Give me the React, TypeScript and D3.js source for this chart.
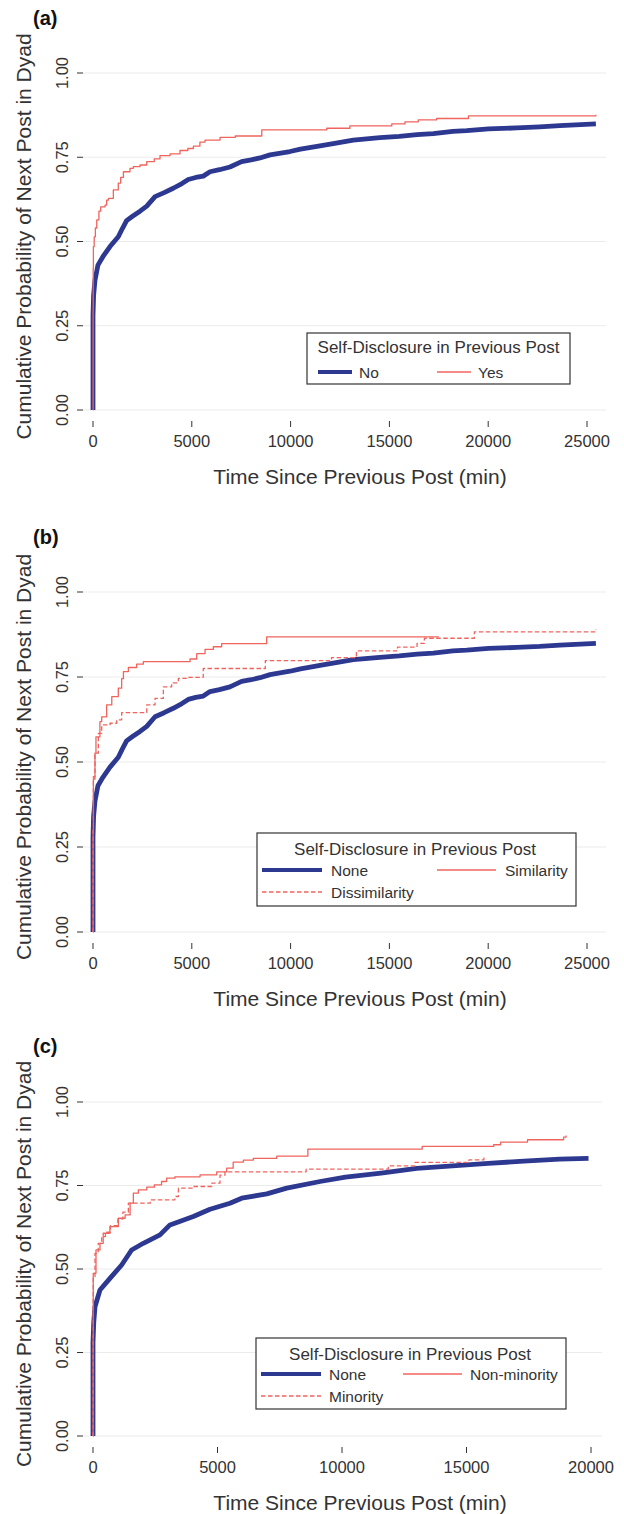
import * as d3 from "d3";
import React from "react";

type Pt = [number, number];

// axis ticks
const yTicks = [0, 0.25, 0.5, 0.75, 1];
const xTicksAB = [0, 5000, 10000, 15000, 20000, 25000];
const xTicksC = [0, 5000, 10000, 15000, 20000];

// (a) & (b): no self-disclosure
const noneAB: Pt[] = [
  [0, 0], [0, 0.28], [30, 0.34], [100, 0.385], [250, 0.43], [500, 0.455], [860, 0.485],
  [1280, 0.514], [1500, 0.54], [1700, 0.562], [2000, 0.575], [2380, 0.59], [2720, 0.605],
  [3140, 0.633], [3600, 0.645], [4060, 0.658], [4500, 0.672], [4820, 0.684], [5200, 0.69],
  [5580, 0.694], [5920, 0.707], [6400, 0.713], [6930, 0.721], [7520, 0.737], [8000, 0.742],
  [8450, 0.748], [8960, 0.757], [9970, 0.767], [10500, 0.774], [11490, 0.784], [12300, 0.792],
  [13170, 0.801], [14520, 0.808], [15500, 0.812], [16400, 0.817], [17220, 0.82], [18210, 0.827],
  [18910, 0.829], [20020, 0.834], [21440, 0.837], [22600, 0.84], [23630, 0.844], [25450, 0.849],
];

// (a): self-disclosure yes
const yesA: Pt[] = [
  [0, 0], [5, 0.3], [10, 0.42], [20, 0.485], [60, 0.514], [120, 0.54], [190, 0.564], [300, 0.59],
  [390, 0.603], [610, 0.608], [690, 0.623], [780, 0.628], [1030, 0.653], [1280, 0.673], [1400, 0.69],
  [1540, 0.707], [1870, 0.717], [2040, 0.722], [2380, 0.727], [2720, 0.737], [3100, 0.745],
  [3390, 0.755], [3900, 0.76], [4400, 0.77], [4800, 0.776], [5080, 0.783], [5410, 0.795],
  [5670, 0.801], [6430, 0.809], [7200, 0.813], [8540, 0.831], [11830, 0.836], [13000, 0.843],
  [15120, 0.849], [15790, 0.855], [16460, 0.861], [17390, 0.865], [19000, 0.873], [25300, 0.873],
  [25450, 0.876],
];

// (b): similarity / dissimilarity
const similarityB: Pt[] = [
  [0, 0], [5, 0.3], [20, 0.45], [100, 0.526], [150, 0.574], [350, 0.619], [440, 0.633],
  [690, 0.668], [950, 0.692], [1280, 0.717], [1450, 0.745], [1540, 0.766], [1790, 0.778],
  [2210, 0.788], [2550, 0.795], [4910, 0.803], [5250, 0.819], [5670, 0.831], [6090, 0.839],
  [6510, 0.848], [8790, 0.868], [17500, 0.868],
];
const dissimilarityB: Pt[] = [
  [0, 0], [5, 0.3], [20, 0.457], [100, 0.526], [270, 0.584], [440, 0.609], [860, 0.614],
  [1200, 0.624], [1450, 0.645], [2720, 0.668], [3140, 0.687], [3560, 0.721], [3980, 0.733],
  [4320, 0.746], [4820, 0.749], [5580, 0.775], [8720, 0.798], [12070, 0.807], [13330, 0.827],
  [15410, 0.838], [16400, 0.849], [16770, 0.864], [19300, 0.883], [25300, 0.883], [25450, 0.89],
];

// (c): none / non-minority / minority
const noneC: Pt[] = [
  [0, 0], [0, 0.28], [30, 0.34], [80, 0.387], [280, 0.437], [680, 0.472], [1150, 0.512],
  [1550, 0.557], [2020, 0.577], [2690, 0.602], [3090, 0.632], [4030, 0.657], [4700, 0.679],
  [5500, 0.697], [5970, 0.712], [6980, 0.725], [7780, 0.742], [9120, 0.762], [10136, 0.775],
  [11570, 0.787], [13004, 0.801], [14437, 0.809], [15871, 0.816], [17305, 0.823], [18738, 0.829],
  [19900, 0.831],
];
const nonMinorityC: Pt[] = [
  [0, 0], [5, 0.3], [10, 0.487], [120, 0.557], [280, 0.577], [410, 0.607], [680, 0.627],
  [1020, 0.652], [1290, 0.662], [1490, 0.697], [1620, 0.727], [1820, 0.737], [2160, 0.745],
  [2466, 0.752], [2753, 0.762], [2960, 0.772], [3290, 0.776], [4300, 0.782], [4970, 0.791],
  [5370, 0.802], [5630, 0.82], [6040, 0.826], [6440, 0.831], [7380, 0.838], [8630, 0.859],
  [13220, 0.867], [16090, 0.872], [16370, 0.88], [17450, 0.887], [18900, 0.895], [19000, 0.9],
];
const minorityC: Pt[] = [
  [0, 0], [5, 0.3], [10, 0.477], [80, 0.547], [210, 0.577], [350, 0.597], [500, 0.61],
  [700, 0.63], [1000, 0.65], [1200, 0.67], [1420, 0.697], [2300, 0.707], [3290, 0.717],
  [3430, 0.742], [4030, 0.747], [4770, 0.757], [5100, 0.781], [5300, 0.791], [8560, 0.799],
  [11860, 0.809], [12930, 0.819], [15100, 0.827], [15650, 0.827], [15700, 0.835],
];

const BLUE = "#2D3891";
const RED = "#F0645E";
const FONT = "'Liberation Sans', Arial, Helvetica, sans-serif";
const TEXT = "#333";

type Series = { data: Pt[]; color: string; width: number; dash?: string; step: boolean };
type Key = { label: string; color: string; width: number; dash?: string; x0: number; x1: number; tx: number; y: number };

type PanelProps = {
  tag: string;
  tagY: number;
  y0: number; // pixel of 0.00
  y1: number; // pixel of 1.00
  xMax: number;
  xEnd: number;
  gridEnd: number;
  xTicks: number[];
  series: Series[];
  legendBox: [number, number, number, number];
  legendTitle: [number, number];
  keys: Key[];
};

function Panel(p: PanelProps) {
  const x = d3.scaleLinear().domain([0, p.xMax]).range([93, p.xEnd]);
  const y = d3.scaleLinear().domain([0, 1]).range([p.y0, p.y1]);
  const titleY = (p.y0 + p.y1) / 2 - 5;
  const [lx, ly, lw, lh] = p.legendBox;

  return (
    <g fontFamily={FONT}>
      <text x={33} y={p.tagY} fontSize={20} fontWeight="bold" fill="#111">{p.tag}</text>

      {yTicks.map((t) => (
        <g key={t}>
          <line x1={83} x2={p.gridEnd} y1={y(t)} y2={y(t)} stroke="#EBEBEB" strokeWidth={1.1} />
          <line x1={77} x2={83} y1={y(t)} y2={y(t)} stroke={TEXT} strokeWidth={1} />
          <text
            transform={`translate(68,${y(t)}) rotate(-90)`}
            textAnchor="middle"
            fontSize={16.5}
            fill={TEXT}
          >
            {d3.format(".2f")(t)}
          </text>
        </g>
      ))}

      {p.xTicks.map((t) => (
        <g key={t}>
          <line x1={x(t)} x2={x(t)} y1={p.y0 + 11} y2={p.y0 + 17} stroke={TEXT} strokeWidth={1} />
          <text x={x(t)} y={p.y0 + 37} textAnchor="middle" fontSize={16.5} fill={TEXT}>{t}</text>
        </g>
      ))}

      <text x={360} y={p.y0 + 74} textAnchor="middle" fontSize={21} fill={TEXT}>
        Time Since Previous Post (min)
      </text>
      <text transform={`translate(31,${titleY}) rotate(-90)`} textAnchor="middle" fontSize={21} fill={TEXT}>
        Cumulative Probability of Next Post in Dyad
      </text>

      {p.series.map((s, i) => {
        const line = d3
          .line<Pt>()
          .x((d) => x(d[0]))
          .y((d) => y(d[1]))
          .curve(s.step ? d3.curveStepAfter : d3.curveLinear);
        return (
          <path
            key={i}
            d={line(s.data) || ""}
            fill="none"
            stroke={s.color}
            strokeWidth={s.width}
            strokeDasharray={s.dash}
            strokeLinejoin="round"
          />
        );
      })}

      <rect x={lx} y={ly} width={lw} height={lh} fill="white" stroke="#333" strokeWidth={1.2} />
      <text x={p.legendTitle[0]} y={p.legendTitle[1]} textAnchor="middle" fontSize={17} fill={TEXT}>
        Self-Disclosure in Previous Post
      </text>
      {p.keys.map((k) => (
        <g key={k.label}>
          <line x1={k.x0} x2={k.x1} y1={k.y} y2={k.y} stroke={k.color} strokeWidth={k.width} strokeDasharray={k.dash} />
          <text x={k.tx} y={k.y + 6} fontSize={15.5} fill={TEXT}>{k.label}</text>
        </g>
      ))}
    </g>
  );
}

const DASH = "4.5,2.5";

export default function App() {
  return (
    <svg width={624} height={1514} style={{ position: "absolute", left: 0, top: 0, background: "white" }}>
      <Panel
        tag="(a)"
        tagY={25}
        y0={410}
        y1={73}
        xMax={25000}
        xEnd={587}
        gridEnd={606}
        xTicks={xTicksAB}
        series={[
          { data: noneAB, color: BLUE, width: 4.8, step: false },
          { data: yesA, color: RED, width: 1.3, step: true },
        ]}
        legendBox={[307, 333, 263, 51]}
        legendTitle={[438.5, 353]}
        keys={[
          { label: "No", color: BLUE, width: 4, x0: 318, x1: 352, tx: 359, y: 372 },
          { label: "Yes", color: RED, width: 1.3, x0: 437, x1: 471, tx: 478, y: 372 },
        ]}
      />
      <Panel
        tag="(b)"
        tagY={544}
        y0={932}
        y1={592}
        xMax={25000}
        xEnd={587}
        gridEnd={606}
        xTicks={xTicksAB}
        series={[
          { data: noneAB, color: BLUE, width: 4.8, step: false },
          { data: dissimilarityB, color: RED, width: 1.3, dash: DASH, step: true },
          { data: similarityB, color: RED, width: 1.3, step: true },
        ]}
        legendBox={[257, 833, 319, 73]}
        legendTitle={[415, 855]}
        keys={[
          { label: "None", color: BLUE, width: 4, x0: 262, x1: 322, tx: 331, y: 870 },
          { label: "Similarity", color: RED, width: 1.3, x0: 437, x1: 496, tx: 505, y: 870 },
          { label: "Dissimilarity", color: RED, width: 1.3, dash: DASH, x0: 262, x1: 322, tx: 331, y: 892 },
        ]}
      />
      <Panel
        tag="(c)"
        tagY={1053}
        y0={1436}
        y1={1102}
        xMax={20000}
        xEnd={591}
        gridEnd={602}
        xTicks={xTicksC}
        series={[
          { data: noneC, color: BLUE, width: 4.8, step: false },
          { data: minorityC, color: RED, width: 1.3, dash: DASH, step: true },
          { data: nonMinorityC, color: RED, width: 1.3, step: true },
        ]}
        legendBox={[256, 1338, 310, 71]}
        legendTitle={[410, 1360]}
        keys={[
          { label: "None", color: BLUE, width: 4, x0: 261, x1: 321, tx: 329, y: 1374 },
          { label: "Non-minority", color: RED, width: 1.3, x0: 403, x1: 462, tx: 470, y: 1374 },
          { label: "Minority", color: RED, width: 1.3, dash: DASH, x0: 261, x1: 321, tx: 329, y: 1396 },
        ]}
      />
    </svg>
  );
}
